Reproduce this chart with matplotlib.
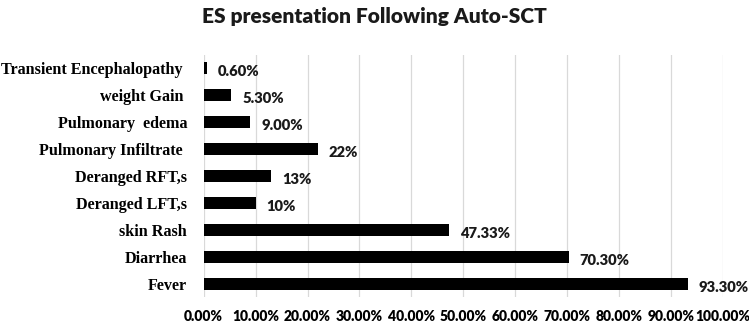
import numpy as np
import matplotlib.pyplot as plt
from matplotlib.ticker import FuncFormatter

# data (bottom to top as drawn)
categories = ["Fever", "Diarrhea", "skin Rash", "Deranged LFT,s", "Deranged RFT,s",
              "Pulmonary Infiltrate ", "Pulmonary  edema", "weight Gain ",
              "Transient Encephalopathy "]
values = [93.30, 70.30, 47.33, 10, 13, 22, 9.00, 5.30, 0.60]
value_labels = ["93.30%", "70.30%", "47.33%", "10%", "13%", "22%", "9.00%", "5.30%", "0.60%"]
ticks = np.arange(0, 101, 10)

fig = plt.figure(figsize=(7.49, 3.25), dpi=100)
ax = fig.add_axes([0.272, 0.086, 0.693, 0.745])

y = np.arange(len(categories))
ax.barh(y, values, height=0.45, color="black", zorder=3)

for yi, v, lab in zip(y, values, value_labels):
    ax.text(v + 2.1, yi - 0.13, lab, va="center", ha="left",
            fontsize=10.6, fontweight="heavy", family="Lato", color="#1a1a1a")

ax.set_xlim(0, 100)
ax.set_ylim(-0.5, len(categories) - 0.5)
ax.set_xticks(ticks)
ax.xaxis.set_major_formatter(FuncFormatter(lambda v, p: "%.2f%%" % v))
ax.set_yticks(y)
ax.set_yticklabels(categories, family="Liberation Serif", fontweight="bold", fontsize=11.6)
for lab in ax.get_xticklabels():
    lab.set_family("Lato")
    lab.set_fontweight("heavy")
    lab.set_fontsize(10)
ax.tick_params(axis="both", length=0)
ax.tick_params(axis="x", pad=9)
ax.tick_params(axis="y", pad=12)
ax.grid(axis="x", color="#d9d9d9", lw=0.9, zorder=0)
for s in ax.spines.values():
    s.set_visible(False)

fig.text(0.5, 0.948, "ES presentation Following Auto-SCT", ha="center", va="center",
         fontsize=15, fontweight="heavy", family="Lato", color="#1a1a1a")

fig.savefig("out.png", dpi=100)
